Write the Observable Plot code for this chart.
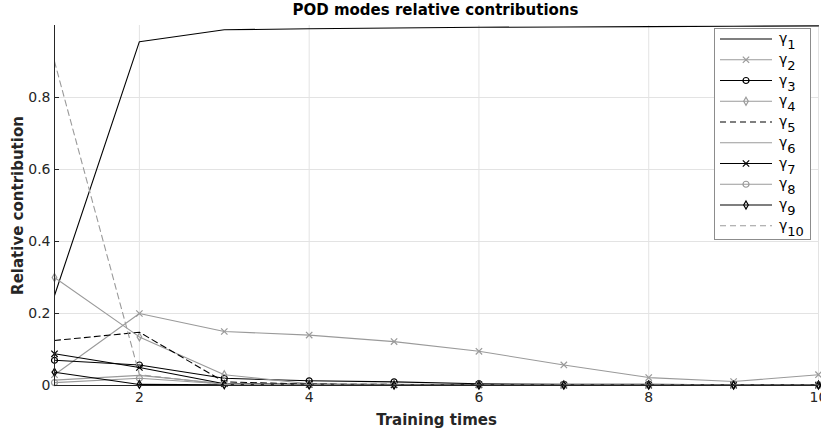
<!DOCTYPE html>
<html>
<head>
<meta charset="utf-8">
<script src="https://cdn.jsdelivr.net/npm/d3@7"></script>
<script src="https://cdn.jsdelivr.net/npm/@observablehq/plot@0.6"></script>
<style>
  html, body { margin: 0; padding: 0; background: #fff; overflow: hidden; }
  #wrap { position: relative; width: 821px; height: 435px; font-family: "DejaVu Sans", sans-serif; }
  #title { height: 20px; width: 821px; text-align: center; font-weight: bold; font-size: 15px; line-height: 21px; color: #000; padding-left: 50px; box-sizing: border-box; }
  #chart svg { overflow: visible; }
  g[aria-label="x-axis label"] text, g[aria-label="y-axis label"] text { font-weight: bold; font-size: 15px; fill: #262626; }
  #legend { position: absolute; left: 0; top: 0; }
</style>
</head>
<body>
<div id="wrap">
  <div id="title">POD modes relative contributions</div>
  <div id="chart"></div>
  <svg id="legend" width="821" height="435"></svg>
</div>
<script>
const trainingTimes = [1, 2, 3, 4, 5, 6, 7, 8, 9, 10];
const gamma1  = [0.25, 0.955, 0.988, 0.991, 0.993, 0.995, 0.996, 0.997, 0.998, 0.999];
const gamma2  = [0.03, 0.20, 0.15, 0.14, 0.122, 0.095, 0.057, 0.022, 0.011, 0.03];
const gamma3  = [0.07, 0.057, 0.02, 0.013, 0.01, 0.005, 0.003, 0.003, 0.002, 0.002];
const gamma4  = [0.30, 0.135, 0.03, 0.005, 0.003, 0.002, 0.002, 0.001, 0.001, 0.001];
const gamma5  = [0.125, 0.148, 0.01, 0.004, 0.003, 0.002, 0.002, 0.001, 0.001, 0.001];
const gamma6  = [0.015, 0.028, 0.005, 0.003, 0.002, 0.001, 0.001, 0.001, 0.001, 0.001];
const gamma7  = [0.088, 0.05, 0.005, 0.003, 0.002, 0.002, 0.001, 0.001, 0.001, 0.001];
const gamma8  = [0.008, 0.02, 0.004, 0.002, 0.002, 0.001, 0.001, 0.001, 0.001, 0.001];
const gamma9  = [0.037, 0.003, 0.002, 0.001, 0.001, 0.001, 0.001, 0.001, 0.001, 0.001];
const gamma10 = [0.90, 0.03, 0.003, 0.002, 0.001, 0.001, 0.001, 0.001, 0.001, 0.001];
const seriesNames = ["1", "2", "3", "4", "5", "6", "7", "8", "9", "10"];
const xTicks = [2, 4, 6, 8, 10];
const yTicks = [0, 0.2, 0.4, 0.6, 0.8];

const GRAY = "#9a9a9a";
const styles = [
  {color: "#000", dash: null, symbol: null},
  {color: GRAY, dash: null, symbol: "times"},
  {color: "#000", dash: null, symbol: "circle"},
  {color: GRAY, dash: null, symbol: "diamond"},
  {color: "#000", dash: "6,4", symbol: null},
  {color: GRAY, dash: null, symbol: null},
  {color: "#000", dash: null, symbol: "times"},
  {color: GRAY, dash: null, symbol: "circle"},
  {color: "#000", dash: null, symbol: "diamond"},
  {color: GRAY, dash: "6,4", symbol: null}
];
const allValues = [gamma1, gamma2, gamma3, gamma4, gamma5, gamma6, gamma7, gamma8, gamma9, gamma10];

const marks = [
  Plot.gridX(xTicks, {stroke: "#e3e3e3", strokeOpacity: 1}),
  Plot.gridY([0.2, 0.4, 0.6, 0.8], {stroke: "#e3e3e3", strokeOpacity: 1}),
];
allValues.forEach((vals, i) => {
  const data = trainingTimes.map((t, j) => ({t, v: vals[j]}));
  const s = styles[i];
  marks.push(Plot.line(data, {x: "t", y: "v", stroke: s.color, strokeWidth: 1.1, strokeDasharray: s.dash || undefined}));
  if (s.symbol) {
    marks.push(Plot.dot(data, {x: "t", y: "v", symbol: () => s.symbol, stroke: s.color, fill: "none", strokeWidth: 1.2, r: s.symbol === "diamond" ? 2.4 : 3}));
  }
});
marks.push(
  Plot.ruleY([0], {stroke: "#262626"}),
  Plot.ruleX([1], {stroke: "#262626"}),
  Plot.axisX(xTicks, {tickSize: -5, tickPadding: 12, stroke: "#262626", fill: "#262626", fontSize: 14,
    label: "Training times", labelAnchor: "center", labelArrow: "none", labelOffset: 39}),
  Plot.axisY(yTicks, {tickSize: -5, tickPadding: 9, stroke: "#262626", fill: "#262626", fontSize: 14,
    tickFormat: d => d === 0 ? "0" : String(d),
    label: "Relative contribution", labelAnchor: "center", labelArrow: "none", labelOffset: 42})
);

const chart = Plot.plot({
  width: 821,
  height: 415,
  marginTop: 5,
  marginBottom: 50,
  marginLeft: 54,
  marginRight: 3,
  style: {fontFamily: "DejaVu Sans, sans-serif", fontSize: "14px", background: "white", overflow: "visible"},
  x: {domain: [1, 10]},
  y: {domain: [0, 1]},
  marks
});
document.getElementById("chart").appendChild(chart);

// legend
const leg = d3.select("#legend");
leg.append("rect").attr("x", 714.5).attr("y", 28.5).attr("width", 96).attr("height", 211)
  .attr("fill", "white").attr("stroke", "#8c8c8c").attr("stroke-width", 1);
const sym = {times: d3.symbolTimes, circle: d3.symbolCircle, diamond: d3.symbolDiamond};
seriesNames.forEach((name, i) => {
  const y = 39 + i * 20.75;
  const s = styles[i];
  leg.append("line").attr("x1", 720).attr("x2", 772).attr("y1", y).attr("y2", y)
    .attr("stroke", s.color).attr("stroke-width", 1.1)
    .attr("stroke-dasharray", s.dash);
  if (s.symbol) {
    const r = s.symbol === "diamond" ? 2.4 : 3;
    leg.append("path").attr("transform", `translate(746,${y})`)
      .attr("d", d3.symbol(sym[s.symbol], Math.PI * r * r)())
      .attr("fill", "none").attr("stroke", s.color).attr("stroke-width", 1.2);
  }
  const t = leg.append("text").attr("x", 779).attr("y", y + 4)
    .attr("font-family", "DejaVu Sans, sans-serif").attr("font-size", 14).attr("fill", "#000");
  t.append("tspan").text("γ");
  t.append("tspan").attr("dy", 6).attr("font-size", 13).text(name);
});
</script>
</body>
</html>
